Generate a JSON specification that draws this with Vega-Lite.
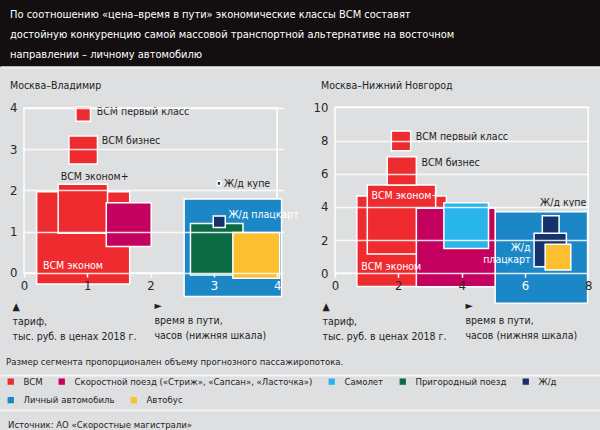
{
  "$schema": "https://vega.github.io/schema/vega-lite/v6.json",
  "background": "#dedfe0",
  "padding": 0,
  "bounds": "flush",
  "spacing": 36,
  "resolve": {"scale": {"color": "shared", "fill": "shared"}, "legend": {"color": "shared", "fill": "shared"}},
  "config": {
    "font": "DejaVu Sans Condensed, DejaVu Sans, sans-serif",
    "view": {"stroke": null},
    "text": {"font": "DejaVu Sans Condensed, DejaVu Sans, sans-serif"}
  },
  "datasets": {
    "vlad": [
      {"type": "Личный автомобиль", "name": "Личный автомобиль", "x": 2.53, "x2": 4.07, "y": -0.57, "y2": 1.79},
      {"type": "ВСМ", "name": "ВСМ эконом", "x": 0.2, "x2": 1.67, "y": -0.27, "y2": 1.97},
      {"type": "ВСМ", "name": "ВСМ эконом+", "x": 0.54, "x2": 1.32, "y": 0.96, "y2": 2.15},
      {"type": "ВСМ", "name": "ВСМ бизнес", "x": 0.71, "x2": 1.16, "y": 2.64, "y2": 3.32},
      {"type": "ВСМ", "name": "ВСМ первый класс", "x": 0.82, "x2": 1.05, "y": 3.68, "y2": 4.02},
      {"type": "Скоростной поезд («Стриж», «Сапсан», «Ласточка»)", "name": "Скоростной поезд", "x": 1.3, "x2": 2.01, "y": 0.64, "y2": 1.7},
      {"type": "Пригородный поезд", "name": "Пригородный поезд", "x": 2.63, "x2": 3.46, "y": -0.05, "y2": 1.2},
      {"type": "Автобус", "name": "Автобус", "x": 3.3, "x2": 4.04, "y": -0.13, "y2": 0.98},
      {"type": "Ж/д", "name": "Ж/д плацкарт", "x": 2.99, "x2": 3.18, "y": 1.1, "y2": 1.38},
      {"type": "Ж/д", "name": "Ж/д купе", "x": 3.05, "x2": 3.11, "y": 2.12, "y2": 2.22}
    ],
    "vlad_lbl": [
      {"text": "ВСМ первый класс", "x": 1.15, "y": 3.91, "pos": "out"},
      {"text": "ВСМ бизнес", "x": 1.23, "y": 3.2, "pos": "out"},
      {"text": "ВСМ эконом+", "x": 0.58, "y": 2.33, "pos": "out"},
      {"text": "Ж/д купе", "x": 3.16, "y": 2.16, "pos": "out"},
      {"text": "ВСМ эконом", "x": 0.3, "y": 0.17, "pos": "in"},
      {"text": "Ж/д плацкарт", "x": 3.23, "y": 1.41, "pos": "in"}
    ],
    "nn": [
      {"type": "Личный автомобиль", "name": "Личный автомобиль", "x": 5.06, "x2": 7.98, "y": -1.81, "y2": 3.71},
      {"type": "ВСМ", "name": "ВСМ эконом", "x": 0.69, "x2": 3.52, "y": -0.8, "y2": 4.66},
      {"type": "ВСМ", "name": "ВСМ эконом+", "x": 1.02, "x2": 3.18, "y": 1.16, "y2": 5.32},
      {"type": "ВСМ", "name": "ВСМ бизнес", "x": 1.65, "x2": 2.57, "y": 5.32, "y2": 7.02},
      {"type": "ВСМ", "name": "ВСМ первый класс", "x": 1.78, "x2": 2.39, "y": 7.39, "y2": 8.57},
      {"type": "Скоростной поезд («Стриж», «Сапсан», «Ласточка»)", "name": "Скоростной поезд", "x": 2.57, "x2": 5.06, "y": -0.81, "y2": 3.92},
      {"type": "Самолет", "name": "Самолет", "x": 3.44, "x2": 4.85, "y": 1.5, "y2": 4.25},
      {"type": "Ж/д", "name": "Ж/д плацкарт", "x": 6.29, "x2": 7.31, "y": 0.4, "y2": 2.41},
      {"type": "Ж/д", "name": "Ж/д купе", "x": 6.55, "x2": 7.08, "y": 2.41, "y2": 3.47},
      {"type": "Автобус", "name": "Автобус", "x": 6.64, "x2": 7.45, "y": 0.2, "y2": 1.75}
    ],
    "nn_lbl": [
      {"text": "ВСМ первый класс", "x": 2.55, "y": 8.23, "pos": "out"},
      {"text": "ВСМ бизнес", "x": 2.73, "y": 6.63, "pos": "out"},
      {"text": "Ж/д купе", "x": 6.48, "y": 4.25, "pos": "out"},
      {"text": "ВСМ эконом+", "x": 1.15, "y": 4.67, "pos": "in"},
      {"text": "ВСМ эконом", "x": 0.83, "y": 0.4, "pos": "in"},
      {"text": "Ж/д", "x": 6.18, "y": 1.51, "pos": "in_r"},
      {"text": "плацкарт", "x": 6.18, "y": 0.8, "pos": "in_r"}
    ]
  },
  "vconcat": [
    {
      "width": 600,
      "height": 67,
      "view": {"fill": "#130e0f", "stroke": null},
      "title": {
        "text": ["По соотношению «цена–время в пути» экономические классы ВСМ составят", "достойную конкуренцию самой массовой транспортной альтернативе на восточном", "направлении – личному автомобилю"],
        "anchor": "start", "frame": "group", "dx": 10, "offset": -60,
        "fontSize": 11, "lineHeight": 20, "color": "#ffffff", "fontWeight": "normal", "baseline": "top"
      },
      "data": {"values": [{"v": 0}]},
      "mark": {"type": "text", "text": ""},
      "encoding": {
        "y": {"field": "v", "type": "quantitative", "scale": {"domain": [0, 1], "nice": false},
          "axis": {"values": [0], "grid": true, "gridColor": "#ebebec", "gridWidth": 2.5, "labels": false, "ticks": false, "domain": false, "title": null}}
      }
    },
    {
      "vconcat": [
        {
          "hconcat": [
            {"width": 24, "height": 202, "data": {"values": [{}]}, "mark": {"type": "text", "text": ""}},
            {
              "width": 259.5,
              "height": 202,
              "title": {"text": "Москва–Владимир", "anchor": "start", "frame": "group", "dx": -14, "offset": 10, "fontSize": 10.5, "fontWeight": "normal", "color": "#1e1e1e"},
              "layer": [
                {
                  "data": {"values": [{}]},
                  "mark": {"type": "rect", "fillOpacity": 0, "stroke": "#ffffff", "strokeWidth": 1.5},
                  "encoding": {"x": {"datum": 0}, "x2": {"datum": 4}, "y": {"datum": 0}, "y2": {"datum": 4}}
                },
                {
                  "data": {"name": "vlad"},
                  "transform": [{"filter": "datum.type == 'Личный автомобиль'"}],
                  "mark": {"type": "rect", "stroke": "#ffffff", "strokeWidth": 1.5},
                  "encoding": {
                    "x": {"field": "x", "type": "quantitative"}, "x2": {"field": "x2"},
                    "y": {"field": "y", "type": "quantitative"}, "y2": {"field": "y2"},
                    "fill": {"field": "type", "type": "nominal",
                      "scale": {"domain": ["Личный автомобиль", "Автобус"], "range": ["#1c87c6", "#fbbf2f"]},
                      "legend": {"orient": "none", "legendX": 6, "legendY": 395, "direction": "horizontal", "padding": 0, "title": null,
                        "symbolType": "square", "symbolSize": 40, "symbolStrokeWidth": 0, "labelFontSize": 9.5, "labelColor": "#1e1e1e", "labelLimit": 400,
                        "labelOffset": 8, "columnPadding": 14}}
                  }
                },
                {
                  "data": {"name": "vlad"},
                  "transform": [{"filter": "datum.type != 'Личный автомобиль' && datum.type != 'Автобус'"}],
                  "mark": {"type": "rect", "stroke": "#ffffff", "strokeWidth": 1.5},
                  "encoding": {
                    "x": {"field": "x", "type": "quantitative", "scale": {"domain": [0, 4.1], "nice": false, "zero": false},
                      "axis": {"values": [0, 1, 2, 3, 4], "format": "d", "offset": -32, "domain": false, "grid": false, "ticks": true, "tickColor": "#ffffff", "tickSize": 4, "tickWidth": 1.5,
                        "labelFontSize": 13, "labelColor": {"condition": {"test": "datum.value >= 3", "value": "#ffffff"}, "value": "#2a2a2a"},
                        "labelPadding": 2, "labelFlush": false, "labelOverlap": false,
                        "title": ["►", "время в пути,", "часов (нижняя шкала)"], "titleX": 130, "titleY": 27, "titleAlign": "left", "titleAnchor": "start", "titleBaseline": "top",
                        "titleFontSize": 10.5, "titleFontWeight": "normal", "titleColor": "#1e1e1e", "titleLineHeight": 15, "zindex": 1}},
                    "x2": {"field": "x2"},
                    "y": {"field": "y", "type": "quantitative", "scale": {"domain": [-0.777, 4.12], "nice": false, "zero": false},
                      "axis": {"values": [0, 1, 2, 3, 4], "format": "d", "domain": false, "ticks": false, "grid": true, "gridColor": "#ffffff", "gridWidth": 1.5, "gridOpacity": 0.85,
                        "labelFontSize": 13, "labelColor": "#2a2a2a", "labelPadding": 7, "labelFlush": false,
                        "title": ["▲", "тариф,", "тыс. руб. в ценах 2018 г."], "titleAngle": 0, "titleX": -12, "titleY": 198, "titleAlign": "left", "titleAnchor": "start", "titleBaseline": "top",
                        "titleFontSize": 10.5, "titleFontWeight": "normal", "titleColor": "#1e1e1e", "titleLineHeight": 15, "zindex": 1}},
                    "y2": {"field": "y2"},
                    "color": {"field": "type", "type": "nominal",
                      "scale": {"domain": ["ВСМ", "Скоростной поезд («Стриж», «Сапсан», «Ласточка»)", "Самолет", "Пригородный поезд", "Ж/д"],
                        "range": ["#ee2b2f", "#c4015e", "#29b5e9", "#0c6b45", "#17316c"]},
                      "legend": {"orient": "none", "legendX": 6, "legendY": 357, "direction": "horizontal", "padding": 0,
                        "title": "Размер сегмента пропорционален объему прогнозного пассажиропотока.", "titleFontSize": 9.5, "titleFontWeight": "normal", "titleColor": "#1e1e1e",
                        "titlePadding": 10, "titleLimit": 600, "titleAnchor": "start",
                        "symbolType": "square", "symbolSize": 40, "symbolStrokeWidth": 0, "labelFontSize": 9.5, "labelColor": "#1e1e1e", "labelLimit": 400,
                        "labelOffset": 8, "columnPadding": 14}}
                  }
                },
                {
                  "data": {"name": "vlad"},
                  "transform": [{"filter": "datum.type == 'Автобус'"}],
                  "mark": {"type": "rect", "stroke": "#ffffff", "strokeWidth": 1.5},
                  "encoding": {
                    "x": {"field": "x", "type": "quantitative"}, "x2": {"field": "x2"},
                    "y": {"field": "y", "type": "quantitative"}, "y2": {"field": "y2"},
                    "fill": {"field": "type", "type": "nominal"}
                  }
                },
                {
                  "data": {"name": "vlad_lbl"},
                  "transform": [{"filter": "datum.pos == 'out'"}],
                  "mark": {"type": "text", "align": "left", "baseline": "middle", "fontSize": 10.5, "color": "#1e1e1e"},
                  "encoding": {"x": {"field": "x", "type": "quantitative"}, "y": {"field": "y", "type": "quantitative"}, "text": {"field": "text"}}
                },
                {
                  "data": {"name": "vlad_lbl"},
                  "transform": [{"filter": "datum.pos == 'in'"}],
                  "mark": {"type": "text", "align": "left", "baseline": "middle", "fontSize": 10.5, "color": "#ffffff"},
                  "encoding": {"x": {"field": "x", "type": "quantitative"}, "y": {"field": "y", "type": "quantitative"}, "text": {"field": "text"}}
                }
              ]
            },
            {"width": 50.8, "height": 202, "data": {"values": [{}]}, "mark": {"type": "text", "text": ""}},
            {
              "width": 253.2,
              "height": 202,
              "title": {"text": "Москва–Нижний Новгород", "anchor": "start", "frame": "group", "dx": -14, "offset": 10, "fontSize": 10.5, "fontWeight": "normal", "color": "#1e1e1e"},
              "layer": [
                {
                  "data": {"values": [{}]},
                  "mark": {"type": "rect", "fillOpacity": 0, "stroke": "#ffffff", "strokeWidth": 1.5},
                  "encoding": {"x": {"datum": 0}, "x2": {"datum": 8}, "y": {"datum": 0}, "y2": {"datum": 10}}
                },
                {
                  "data": {"name": "nn"},
                  "transform": [{"filter": "datum.type == 'Личный автомобиль'"}],
                  "mark": {"type": "rect", "stroke": "#ffffff", "strokeWidth": 1.5},
                  "encoding": {
                    "x": {"field": "x", "type": "quantitative"}, "x2": {"field": "x2"},
                    "y": {"field": "y", "type": "quantitative"}, "y2": {"field": "y2"},
                    "fill": {"field": "type", "type": "nominal"}
                  }
                },
                {
                  "data": {"name": "nn"},
                  "transform": [{"filter": "datum.type != 'Личный автомобиль' && datum.type != 'Автобус'"}],
                  "mark": {"type": "rect", "stroke": "#ffffff", "strokeWidth": 1.5},
                  "encoding": {
                    "x": {"field": "x", "type": "quantitative", "scale": {"domain": [0, 8], "nice": false, "zero": false},
                      "axis": {"values": [0, 2, 4, 6, 8], "format": "d", "offset": -31.7, "domain": false, "grid": false, "ticks": true, "tickColor": "#ffffff", "tickSize": 4, "tickWidth": 1.5,
                        "labelFontSize": 13, "labelColor": {"condition": {"test": "datum.value == 6", "value": "#ffffff"}, "value": "#2a2a2a"},
                        "labelPadding": 2, "labelFlush": false, "labelOverlap": false,
                        "title": ["►", "время в пути,", "часов (нижняя шкала)"], "titleX": 130, "titleY": 27, "titleAlign": "left", "titleAnchor": "start", "titleBaseline": "top",
                        "titleFontSize": 10.5, "titleFontWeight": "normal", "titleColor": "#1e1e1e", "titleLineHeight": 15, "zindex": 1}},
                    "x2": {"field": "x2"},
                    "y": {"field": "y", "type": "quantitative", "scale": {"domain": [-1.91, 10.26], "nice": false, "zero": false},
                      "axis": {"values": [0, 2, 4, 6, 8, 10], "format": "d", "domain": false, "ticks": false, "grid": true, "gridColor": "#ffffff", "gridWidth": 1.5, "gridOpacity": 0.85,
                        "labelFontSize": 13, "labelColor": "#2a2a2a", "labelPadding": 7, "labelFlush": false,
                        "title": ["▲", "тариф,", "тыс. руб. в ценах 2018 г."], "titleAngle": 0, "titleX": -13, "titleY": 198, "titleAlign": "left", "titleAnchor": "start", "titleBaseline": "top",
                        "titleFontSize": 10.5, "titleFontWeight": "normal", "titleColor": "#1e1e1e", "titleLineHeight": 15, "zindex": 1}},
                    "y2": {"field": "y2"},
                    "color": {"field": "type", "type": "nominal"}
                  }
                },
                {
                  "data": {"name": "nn"},
                  "transform": [{"filter": "datum.type == 'Автобус'"}],
                  "mark": {"type": "rect", "stroke": "#ffffff", "strokeWidth": 1.5},
                  "encoding": {
                    "x": {"field": "x", "type": "quantitative"}, "x2": {"field": "x2"},
                    "y": {"field": "y", "type": "quantitative"}, "y2": {"field": "y2"},
                    "fill": {"field": "type", "type": "nominal"}
                  }
                },
                {
                  "data": {"name": "nn_lbl"},
                  "transform": [{"filter": "datum.pos == 'out'"}],
                  "mark": {"type": "text", "align": "left", "baseline": "middle", "fontSize": 10.5, "color": "#1e1e1e"},
                  "encoding": {"x": {"field": "x", "type": "quantitative"}, "y": {"field": "y", "type": "quantitative"}, "text": {"field": "text"}}
                },
                {
                  "data": {"name": "nn_lbl"},
                  "transform": [{"filter": "datum.pos == 'in'"}],
                  "mark": {"type": "text", "align": "left", "baseline": "middle", "fontSize": 10.5, "color": "#ffffff"},
                  "encoding": {"x": {"field": "x", "type": "quantitative"}, "y": {"field": "y", "type": "quantitative"}, "text": {"field": "text"}}
                },
                {
                  "data": {"name": "nn_lbl"},
                  "transform": [{"filter": "datum.pos == 'in_r'"}],
                  "mark": {"type": "text", "align": "right", "baseline": "middle", "fontSize": 10.5, "color": "#ffffff"},
                  "encoding": {"x": {"field": "x", "type": "quantitative"}, "y": {"field": "y", "type": "quantitative"}, "text": {"field": "text"}}
                }
              ]
            }
          ],
          "spacing": 0,
          "bounds": "flush",
          "resolve": {"scale": {"color": "shared", "fill": "shared"}, "legend": {"color": "shared", "fill": "shared"}}
        },
        {
          "width": 600,
          "height": 55,
          "title": {"text": "Источник: АО «Скоростные магистрали»", "orient": "bottom", "anchor": "start", "frame": "group", "dx": 8, "offset": -15, "fontSize": 9.5, "fontWeight": "normal", "color": "#1e1e1e"},
          "data": {"values": [{"v": 0}]},
          "mark": {"type": "text", "text": ""},
          "encoding": {
            "y": {"field": "v", "type": "quantitative", "scale": {"domain": [0, 55], "nice": false},
              "axis": {"values": [20, 55], "grid": true, "gridColor": "#f4f4f4", "gridWidth": 2, "labels": false, "ticks": false, "domain": false, "title": null}}
          }
        }
      ],
      "spacing": 272,
      "bounds": "flush",
      "resolve": {"scale": {"color": "shared", "fill": "shared"}, "legend": {"color": "shared", "fill": "shared"}}
    }
  ]
}
